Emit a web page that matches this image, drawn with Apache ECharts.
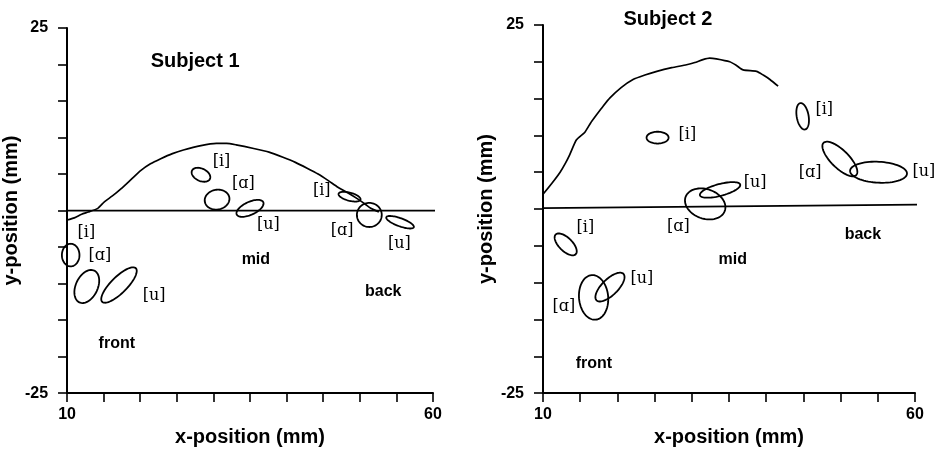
<!DOCTYPE html>
<html>
<head>
<meta charset="utf-8">
<script src="https://cdn.jsdelivr.net/npm/echarts@6/dist/echarts.min.js"></script>
<style>
  html, body { margin: 0; padding: 0; background: #fff; }
  #chart { width: 939px; height: 452px; }
</style>
</head>
<body>
<div id="chart"></div>
<script>
// Axis range and the tick values that carry a label
const xRange = [10, 60];
const yRange = [-25, 25];
const xTickLabels = [10, 60];
const yTickLabels = [-25, 25];

// Palate contours (x, y in mm)
const palate1 = [[10,-1.3],[11,-1.0],[12,-0.5],[12.9,-0.2],[14.2,0.3],[15.1,1.2],[16.2,2.0],[17.4,3.0],[18.8,4.3],[20.1,5.5],[21.4,6.4],[22.8,7.1],[24.4,7.8],[25.9,8.3],[28.3,8.9],[30.4,9.2],[31.8,9.2],[33.1,9.0],[35.5,8.5],[37.6,8.0],[39.5,7.3],[41.2,6.6],[42.8,5.8],[44.3,5.0],[45.7,4.1],[47.0,3.2],[48.4,2.4],[49.7,1.6],[50.7,0.9],[51.5,0.3],[52.6,-0.2]];
const palate2 = [[10,2.0],[11.2,3.5],[12.3,5.0],[13.0,6.2],[13.6,7.4],[14.5,9.4],[15.6,10.4],[16.4,11.7],[17.2,12.8],[18.1,14.0],[19.0,15.1],[20.5,16.5],[22.1,17.6],[23.7,18.2],[25.3,18.7],[27.3,19.2],[29.3,19.6],[30.4,19.9],[31.5,20.3],[32.4,20.5],[33.3,20.4],[35.1,20.0],[36.0,19.5],[36.9,18.9],[38.7,18.7],[39.6,18.2],[40.5,17.6],[41.6,16.7]];

// Occlusal reference lines
const occlusal1 = [[8.4,0],[60.3,0]];
const occlusal2 = [[8.5,0.1],[60.3,0.6]];

// Vowel ellipses: centre x, centre y, semi-axis a, semi-axis b (mm), angle (deg)
const ellipses1 = [
  [28.3, 4.9, 1.35, 0.85, -25],
  [30.5, 1.5, 1.7, 1.35, 10],
  [35.0, 0.3, 2.0, 0.88, 25],
  [48.6, 1.9, 1.55, 0.55, -15],
  [51.3, -0.6, 1.7, 1.65, 0],
  [55.5, -1.6, 2.0, 0.55, -20],
  [10.5, -6.1, 1.55, 1.2, 90],
  [12.7, -10.4, 2.4, 1.5, 65],
  [17.1, -10.2, 3.25, 1.1, 45]
];
const ellipses2 = [
  [25.4, 9.7, 1.48, 0.8, 0],
  [31.8, 0.7, 2.8, 2.0, -20],
  [33.8, 2.6, 2.8, 0.8, 15],
  [44.9, 12.6, 1.82, 0.8, 100],
  [49.9, 6.8, 3.1, 1.2, -45],
  [55.1, 5.0, 3.83, 1.42, -3],
  [13.05, -4.8, 1.9, 0.9, -45],
  [16.8, -12.0, 3.04, 1.96, 95],
  [19.0, -10.6, 2.55, 1.08, 45]
];

// Vowel labels: text, x, y
const vowels1 = [["[i]",31.1,6.7],["[ɑ]",34.1,3.6],["[u]",37.5,-2.0],["[i]",44.8,2.65],["[ɑ]",47.6,-2.8],["[u]",55.4,-4.5],["[i]",12.65,-3.0],["[ɑ]",14.5,-6.25],["[u]",21.9,-11.7]];
const vowels2 = [["[i]",29.4,10.1],["[ɑ]",28.2,-2.4],["[u]",38.5,3.6],["[i]",47.8,13.5],["[ɑ]",45.9,4.9],["[u]",61.2,5.1],["[i]",15.7,-2.5],["[ɑ]",12.8,-13.3],["[u]",23.3,-9.5]];

// Region names and panel titles: text, x, y
const regions1 = [["mid",35.8,-6.75],["back",53.2,-11.1],["front",16.8,-18.2]];
const regions2 = [["mid",35.5,-6.8],["back",53.0,-3.5],["front",16.85,-21.0]];
const title1 = [["Subject 1",27.5,20.4]];
const title2 = [["Subject 2",26.8,25.8]];

const SANS = '"Liberation Sans", Arial, Helvetica, sans-serif';
const SERIF = '"DejaVu Serif", serif';

function xAxisFor(gridIndex) {
  return {
    gridIndex, type: 'value', min: xRange[0], max: xRange[1], interval: 5,
    name: 'x-position (mm)', nameLocation: 'middle', nameGap: 27,
    nameTextStyle: { fontFamily: SANS, fontWeight: 'bold', fontSize: 20, color: '#000' },
    axisLine: { show: true, onZero: false, lineStyle: { color: '#000', width: 2 } },
    axisTick: { show: true, inside: false, length: 9, lineStyle: { color: '#000', width: 1.6 } },
    axisLabel: {
      margin: 13, color: '#000', fontFamily: SANS, fontWeight: 'bold', fontSize: 16,
      formatter: v => (xTickLabels.indexOf(v) >= 0 ? String(v) : '')
    },
    splitLine: { show: false }
  };
}
function yAxisFor(gridIndex, gap) {
  return {
    gridIndex, type: 'value', min: yRange[0], max: yRange[1], interval: 5,
    name: 'y-position (mm)', nameLocation: 'middle', nameGap: gap, nameRotate: 90,
    nameTextStyle: { fontFamily: SANS, fontWeight: 'bold', fontSize: 20, color: '#000' },
    axisLine: { show: true, onZero: false, lineStyle: { color: '#000', width: 2 } },
    axisTick: { show: true, inside: false, length: 9, lineStyle: { color: '#000', width: 1.6 } },
    axisLabel: {
      margin: 19, color: '#000', fontFamily: SANS, fontWeight: 'bold', fontSize: 16,
      formatter: v => (yTickLabels.indexOf(v) >= 0 ? String(v) : '')
    },
    splitLine: { show: false }
  };
}

function lineSeries(idx, data, width) {
  return {
    type: 'line', xAxisIndex: idx, yAxisIndex: idx, data, symbol: 'none',
    smooth: 0.2, clip: false, silent: true,
    lineStyle: { color: '#000', width }
  };
}

// Ellipse outline traced in data space and mapped through the axes
function ellipseSeries(idx, data) {
  return {
    type: 'custom', xAxisIndex: idx, yAxisIndex: idx, data, clip: false, silent: true,
    encode: { x: 0, y: 1 },
    renderItem: (params, api) => {
      const cx = api.value(0), cy = api.value(1), a = api.value(2), b = api.value(3);
      const th = api.value(4) * Math.PI / 180;
      const pts = [];
      for (let k = 0; k < 72; k++) {
        const t = k / 72 * Math.PI * 2;
        const ex = a * Math.cos(t), ey = b * Math.sin(t);
        pts.push(api.coord([cx + ex * Math.cos(th) - ey * Math.sin(th),
                            cy + ex * Math.sin(th) + ey * Math.cos(th)]));
      }
      return { type: 'polygon', shape: { points: pts },
               style: { fill: 'none', stroke: '#000', lineWidth: 1.8 } };
    }
  };
}

function textSeries(idx, rows, font) {
  return {
    type: 'custom', xAxisIndex: idx, yAxisIndex: idx, clip: false, silent: true,
    data: rows.map(r => [r[1], r[2], r[0]]),
    encode: { x: 0, y: 1 },
    renderItem: (params, api) => {
      const p = api.coord([api.value(0), api.value(1)]);
      return { type: 'text', x: p[0], y: p[1],
               style: { text: rows[params.dataIndex][0], font, fill: '#000',
                        align: 'center', verticalAlign: 'middle' } };
    }
  };
}

const chart = echarts.init(document.getElementById('chart'), null, { renderer: 'canvas' });
chart.setOption({
  backgroundColor: '#fff',
  animation: false,
  grid: [
    { left: 62, top: 28, width: 371, height: 368 },
    { left: 543, top: 25, width: 372, height: 370 }
  ],
  xAxis: [xAxisFor(0), xAxisFor(1)],
  yAxis: [yAxisFor(0, 35), yAxisFor(1, 33)],
  series: [
    lineSeries(0, palate1, 1.7),
    lineSeries(0, occlusal1, 1.8),
    ellipseSeries(0, ellipses1),
    textSeries(0, vowels1, 'normal 16px ' + SERIF),
    textSeries(0, regions1, 'bold 16px ' + SANS),
    textSeries(0, title1, 'bold 20px ' + SANS),
    lineSeries(1, palate2, 1.7),
    lineSeries(1, occlusal2, 1.8),
    ellipseSeries(1, ellipses2),
    textSeries(1, vowels2, 'normal 16px ' + SERIF),
    textSeries(1, regions2, 'bold 16px ' + SANS),
    textSeries(1, title2, 'bold 20px ' + SANS)
  ]
});
</script>
</body>
</html>
